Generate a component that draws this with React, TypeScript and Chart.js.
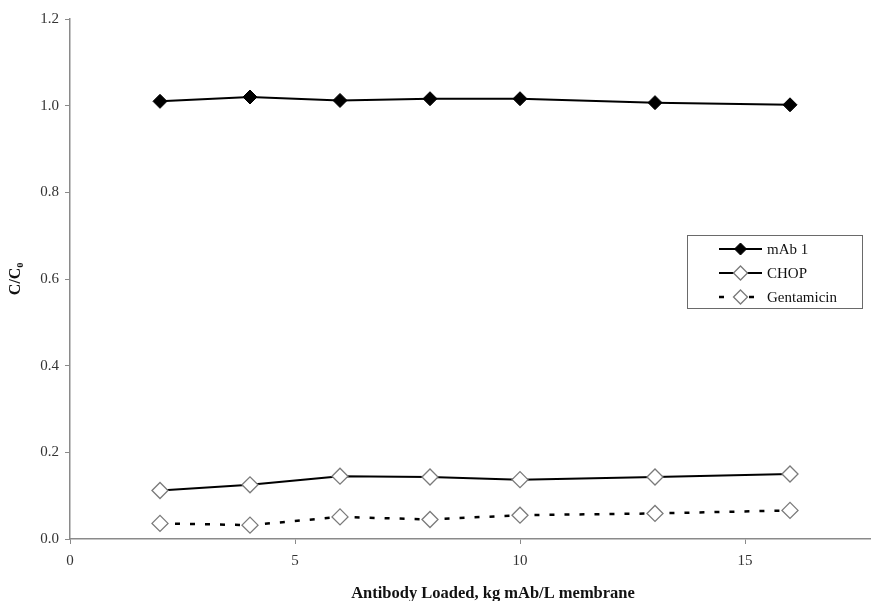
import React, { useEffect, useRef } from "react";
import { Chart, registerables } from "chart.js";

Chart.register(...registerables);

// ---- data ----
const loadings = [2, 4, 6, 8, 10, 13, 16];
const mAb1 = [1.01, 1.02, 1.012, 1.016, 1.016, 1.007, 1.002];
const chop = [0.112, 0.125, 0.145, 0.143, 0.137, 0.143, 0.15];
const gentamicin = [0.036, 0.032, 0.051, 0.045, 0.055, 0.059, 0.066];
const seriesLabels = ["mAb 1", "CHOP", "Gentamicin"];
const xTicks = [0, 5, 10, 15];
const yTicks = [0, 0.2, 0.4, 0.6, 0.8, 1.0, 1.2];
const xTitle = "Antibody Loaded, kg mAb/L membrane";
const yTitle = "C/C\u2080";
const xMax = 18.8; // the reference plot is cropped on the right

const FONT = "'Liberation Serif', 'Times New Roman', serif";

function pts(values: number[]) {
  return loadings.map((x, i) => ({ x, y: values[i] }));
}

function diamond(ctx: CanvasRenderingContext2D, x: number, y: number, r: number, fill: string, stroke: string, lw: number) {
  ctx.beginPath();
  ctx.moveTo(x, y - r);
  ctx.lineTo(x + r, y);
  ctx.lineTo(x, y + r);
  ctx.lineTo(x - r, y);
  ctx.closePath();
  ctx.fillStyle = fill;
  ctx.fill();
  ctx.lineWidth = lw;
  ctx.strokeStyle = stroke;
  ctx.stroke();
}

const boxLegend = {
  id: "boxLegend",
  afterDraw(chart: any) {
    const ctx: CanvasRenderingContext2D = chart.ctx;
    const bx = 687, by = 235, bw = 175, bh = 73;
    ctx.save();
    ctx.fillStyle = "#ffffff";
    ctx.fillRect(bx, by, bw, bh);
    ctx.strokeStyle = "#6a6a6a";
    ctx.lineWidth = 1;
    ctx.strokeRect(bx + 0.5, by + 0.5, bw, bh);
    chart.data.datasets.forEach((ds: any, i: number) => {
      const y = by + 14 + i * 24;
      const x1 = 719, x2 = 762, xm = (x1 + x2) / 2;
      ctx.beginPath();
      ctx.setLineDash(ds.borderDash || []);
      ctx.strokeStyle = ds.borderColor;
      ctx.lineWidth = ds.borderWidth;
      ctx.moveTo(x1, y);
      ctx.lineTo(x2, y);
      ctx.stroke();
      ctx.setLineDash([]);
      diamond(ctx, xm, y, ds.pointRadius - 1, ds.pointBackgroundColor, ds.pointBorderColor, ds.pointBorderWidth);
      ctx.fillStyle = "#111";
      ctx.font = `15px ${FONT}`;
      ctx.textBaseline = "middle";
      ctx.textAlign = "left";
      ctx.fillText(ds.label, 767, y + 1);
    });
    ctx.restore();
  },
};

export default function App() {
  const ref = useRef<HTMLCanvasElement | null>(null);

  useEffect(() => {
    document.body.style.margin = "0";
    const canvas = ref.current;
    if (!canvas) return;
    const chart = new Chart(canvas, {
      type: "line",
      data: {
        datasets: [
          {
            label: seriesLabels[0],
            data: pts(mAb1),
            borderColor: "#000000",
            borderWidth: 2,
            pointStyle: "rectRot",
            pointRadius: 7,
            pointBackgroundColor: "#000000",
            pointBorderColor: "#000000",
            pointBorderWidth: 1,
            tension: 0,
          },
          {
            label: seriesLabels[1],
            data: pts(chop),
            borderColor: "#000000",
            borderWidth: 2,
            pointStyle: "rectRot",
            pointRadius: 8,
            pointBackgroundColor: "#ffffff",
            pointBorderColor: "#7a7a7a",
            pointBorderWidth: 1.3,
            tension: 0,
          },
          {
            label: seriesLabels[2],
            data: pts(gentamicin),
            borderColor: "#000000",
            borderWidth: 2.5,
            borderDash: [5, 10],
            pointStyle: "rectRot",
            pointRadius: 8,
            pointBackgroundColor: "#ffffff",
            pointBorderColor: "#7a7a7a",
            pointBorderWidth: 1.3,
            tension: 0,
          },
        ] as any,
      },
      options: {
        animation: false,
        responsive: false,
        layout: { autoPadding: false, padding: { top: 19, right: 0, left: 0, bottom: 0 } },
        plugins: {
          legend: { display: false },
          tooltip: { enabled: false },
        },
        scales: {
          x: {
            type: "linear",
            min: 0,
            max: xMax,
            afterBuildTicks: (s: any) => {
              s.ticks = xTicks.map((v) => ({ value: v }));
            },
            afterFit: (s: any) => {
              s.height = 62;
            },
            border: { display: true, color: "#8a8a8a", width: 1.5 },
            grid: { display: true, drawOnChartArea: false, drawTicks: true, tickLength: 5, color: "#8a8a8a" },
            ticks: {
              padding: 8,
              color: "#333",
              font: { family: FONT, size: 15 },
              maxRotation: 0,
              callback: (v: any) => String(v),
            },
            title: {
              display: true,
              text: xTitle,
              color: "#111",
              font: { family: FONT, size: 16.5, weight: "bold" },
              padding: { top: 0, bottom: -3 },
            },
          },
          y: {
            type: "linear",
            min: 0,
            max: 1.2,
            afterBuildTicks: (s: any) => {
              s.ticks = yTicks.map((v) => ({ value: v }));
            },
            afterFit: (s: any) => {
              s.width = 70;
            },
            border: { display: true, color: "#8a8a8a", width: 1.5 },
            grid: { display: true, drawOnChartArea: false, drawTicks: true, tickLength: 5, color: "#8a8a8a" },
            ticks: {
              padding: 6,
              color: "#333",
              font: { family: FONT, size: 15 },
              callback: (v: any) => Number(v).toFixed(1),
            },
            title: {
              display: true,
              text: yTitle,
              color: "#111",
              font: { family: FONT, size: 16, weight: "bold" },
              padding: { top: 6, bottom: 0 },
            },
          },
        },
      } as any,
      plugins: [boxLegend],
    });
    return () => chart.destroy();
  }, []);

  return (
    <div style={{ position: "absolute", left: 0, top: 0, width: 871, height: 601, overflow: "hidden", background: "#fff" }}>
      <canvas ref={ref} width={916} height={601} style={{ display: "block" }} />
    </div>
  );
}
